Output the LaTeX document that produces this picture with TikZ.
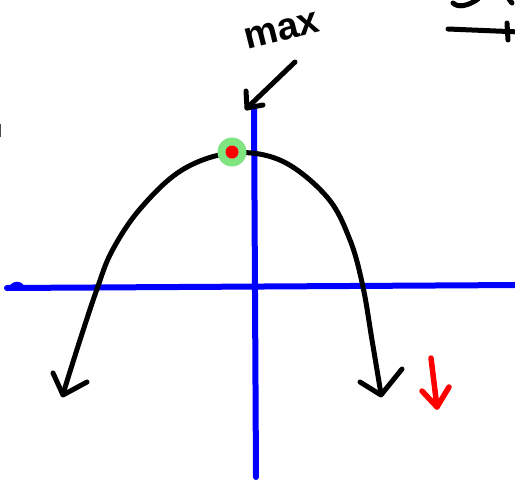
\documentclass[tikz,border=0pt]{standalone}
\usepackage{fontspec}
\setmainfont{Liberation Sans}
\begin{document}
\begin{tikzpicture}[x=1pt,y=-1pt,
  axisline/.style={draw={rgb,255:red,0;green,0;blue,255},line width=6pt,line cap=round},
  ink/.style={draw=black,line width=5pt,line cap=round,line join=round},
  redink/.style={draw=red,line width=5.5pt,line cap=round,line join=round}]
\useasboundingbox (0,0) rectangle (515,483);
% axes
\coordinate (hl) at (7,288);
\coordinate (hr) at (520,285);
\coordinate (vt) at (254,108);
\coordinate (vb) at (256,477);
\draw[axisline] (hl) -- (hr);
\draw[axisline,line width=4pt] (12,286) .. controls (15,283) and (19,283) .. (22,286);
\draw[axisline] (vt) -- (vb);
% parabola
\draw[ink] plot[smooth,tension=0.6] coordinates {(63,394) (80,340) (97,289) (112,251) (140,209) (182,170) (232,153) (282,161) (327,197) (350,240) (363,287) (372,340) (381,394)};
\coordinate (ltip) at (63,395);
\coordinate (rtip) at (381,395);
\draw[ink] (53,373) -- (ltip) -- (87,382);
\draw[ink] (360,382) -- (rtip) -- (402,369);
% max point
\node[circle,fill={rgb,255:red,128;green,228;blue,128},minimum size=29pt,inner sep=0pt] (maxpt) at (232,152) {};
\node[circle,fill=red,minimum size=13pt,inner sep=0pt] (dot) at (232,152) {};
% max label
\node[rotate=14,font=\bfseries\fontsize{38}{38}\selectfont,inner sep=0pt] (maxlbl) at (282,31) {max};
\coordinate (mstart) at (295,62);
\coordinate (mtip) at (247,108);
\draw[ink] (mstart) -- (mtip);
\draw[ink] (246,91) -- (mtip) -- (263,105);
% red arrow
\coordinate (rs) at (431,358);
\coordinate (rt) at (437,407);
\draw[redink] (rs) -- (rt);
\draw[redink] (422,391) -- (rt) -- (449,387);
% top right fragments
\draw[ink] (453,3) .. controls (458,8) and (468,6) .. (478,-1);
\draw[ink] (509,-1) -- (512,3);
\draw[ink] (448,29) -- (520,32);
\draw[ink] (507,23) -- (508,40);
% left edge mark
\draw[draw=black!70,line width=2pt] (0,124) -- (0,137);
\end{tikzpicture}
\end{document}
